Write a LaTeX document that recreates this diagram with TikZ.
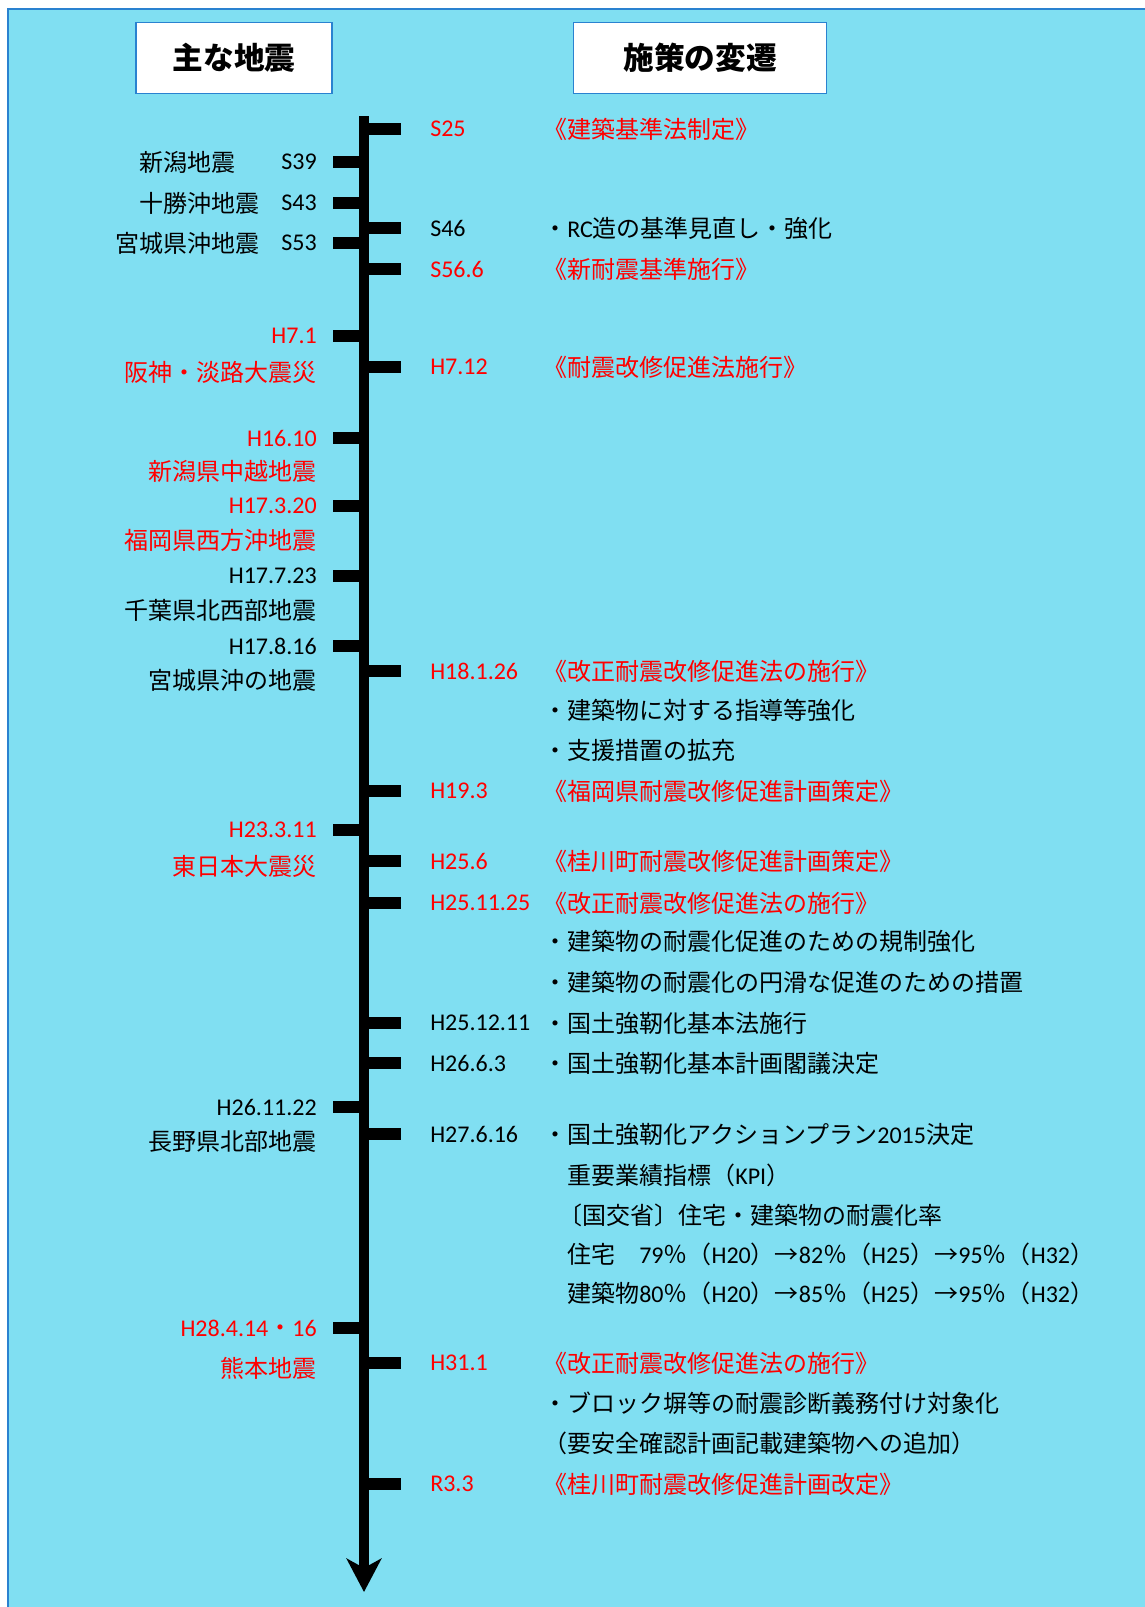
\documentclass[tikz,border=0pt]{standalone}
\usepackage{fontspec}
\setmainfont{Noto Sans CJK JP}
\newfontfamily\latfont{Carlito}
\newfontfamily\jpfont{Noto Sans CJK JP}
\usepackage{tikz}
\usetikzlibrary{arrows.meta}
\usepackage{xcolor}
\definecolor{bgcyan}{RGB}{128,223,242}
\definecolor{edgeblue}{RGB}{42,130,208}
\definecolor{evred}{RGB}{255,0,0}
\newcommand{\lat}[1]{{\latfont\fontsize{18}{22}\selectfont #1}}
\newcommand{\jpc}[1]{{\jpfont\fontsize{18}{22}\selectfont #1}}
\tikzset{%
    jp/.style={font=\fontsize{18}{22}\selectfont, inner sep=0pt},
    evdate/.style={font=\latfont\fontsize{18}{22}\selectfont, anchor=east, inner sep=0pt},
    evname/.style={jp, anchor=east},
    poldate/.style={font=\latfont\fontsize{18}{22}\selectfont, anchor=west, inner sep=0pt},
    poltext/.style={jp, anchor=west},
    headbox/.style={draw=edgeblue, line width=1.2pt, fill=white,
        minimum height=53pt, font=\fontsize{23}{28}\selectfont\bfseries}
}

\begin{document}
\begin{tikzpicture}[x=0.75pt,y=-0.75pt]
    \useasboundingbox (0,0) rectangle (1145,1607);
    \fill[bgcyan] (8,9) rectangle (1145,1607);
    \draw[edgeblue,line width=1.5pt] (8,1607)--(8,9)--(1145,9);
    % headings
    \node[headbox,minimum width=147pt] (eqhead) at (234,58) {主な地震};
    \node[headbox,minimum width=190pt] (polhead) at (700,58) {施策の変遷};
    % time axis
    \draw[line width=7.5pt,-{Stealth[length=25pt,width=26pt,inset=7pt]}] (364,116)--(364,1592);
    \foreach \y in {162,203,243,336,438,506,576,646,830,1107,1328}
    {
    \fill (333,\y-6) rectangle (364,\y+6);
    }
    \foreach \y in {129,228,269,367,671,791,861,903,1023,1063,1134,1363,1484}
    {
    \fill (364,\y-6) rectangle (401,\y+6);
    }
    % earthquakes
    \node[evname] (niigata) at (236,162) {新潟地震};
    \node[evdate] (s39) at (317,162) {S39};
    \node[evname] (tokachi) at (260,203) {十勝沖地震};
    \node[evdate] (s43) at (317,203) {S43};
    \node[evname] (miyagi) at (260,243) {宮城県沖地震};
    \node[evdate] (s53) at (317,243) {S53};
    \node[evdate,evred] (h71) at (317,336) {H7.1};
    \node[evname,evred] (hanshin) at (317,372) {阪神・淡路大震災};
    \node[evdate,evred] (h1610) at (317,438) {H16.10};
    \node[evname,evred] (chuetsu) at (317,471) {新潟県中越地震};
    \node[evdate,evred] (h17320) at (317,506) {H17.3.20};
    \node[evname,evred] (fukuoka) at (317,540) {福岡県西方沖地震};
    \node[evdate] (h17723) at (317,576) {H17.7.23};
    \node[evname] (chiba) at (317,610) {千葉県北西部地震};
    \node[evdate] (h17816) at (317,646) {H17.8.16};
    \node[evname] (miyagioki) at (317,680) {宮城県沖の地震};
    \node[evdate,evred] (h23311) at (317,830) {H23.3.11};
    \node[evname,evred] (tohoku) at (317,866) {東日本大震災};
    \node[evdate] (h261122) at (317,1107) {H26.11.22};
    \node[evname] (nagano) at (317,1141) {長野県北部地震};
    \node[evdate,evred] (h28414) at (317,1328) {H28.4.14\jpc{・}16};
    \node[evname,evred] (kumamoto) at (317,1368) {熊本地震};
    % policies
    \node[poldate,evred] (s25) at (430,129) {S25};
    \node[poltext,evred] (p25) at (543,129) {《建築基準法制定》};
    \node[poldate] (s46) at (430,228) {S46};
    \node[poltext] (p46) at (543,228) {・\lat{RC}造の基準見直し・強化};
    \node[poldate,evred] (s566) at (430,269) {S56.6};
    \node[poltext,evred] (p566) at (543,269) {《新耐震基準施行》};
    \node[poldate,evred] (h712) at (430,367) {H7.12};
    \node[poltext,evred] (p712) at (543,367) {《耐震改修促進法施行》};
    \node[poldate,evred] (h18126) at (430,671) {H18.1.26};
    \node[poltext,evred] (p18) at (543,671) {《改正耐震改修促進法の施行》};
    \node[poltext] (p18a) at (543,710) {・建築物に対する指導等強化};
    \node[poltext] (p18b) at (543,750) {・支援措置の拡充};
    \node[poldate,evred] (h193) at (430,791) {H19.3};
    \node[poltext,evred] (p193) at (543,791) {《福岡県耐震改修促進計画策定》};
    \node[poldate,evred] (h256) at (430,861) {H25.6};
    \node[poltext,evred] (p256) at (543,861) {《桂川町耐震改修促進計画策定》};
    \node[poldate,evred] (h251125) at (430,903) {H25.11.25};
    \node[poltext,evred] (p2511) at (543,903) {《改正耐震改修促進法の施行》};
    \node[poltext] (p2511a) at (543,941) {・建築物の耐震化促進のための規制強化};
    \node[poltext] (p2511b) at (543,982) {・建築物の耐震化の円滑な促進のための措置};
    \node[poldate] (h251211) at (430,1023) {H25.12.11};
    \node[poltext] (p2512) at (543,1023) {・国土強靭化基本法施行};
    \node[poldate] (h2663) at (430,1063) {H26.6.3};
    \node[poltext] (p266) at (543,1063) {・国土強靭化基本計画閣議決定};
    \node[poldate] (h27616) at (430,1134) {H27.6.16};
    \node[poltext] (p276) at (543,1134) {・国土強靭化アクションプラン\lat{2015}決定};
    \node[poltext] (kpi) at (567,1175) {重要業績指標（\lat{KPI}）};
    \node[poltext] (rate) at (558,1215) {〔国交省〕住宅・建築物の耐震化率};
    \node[poltext] (house) at (567,1254) {住宅　\lat{79}％（\lat{H20}）→\lat{82}％（\lat{H25}）→\lat{95}％（\lat{H32}）};
    \node[poltext] (bldg) at (567,1293) {建築物\lat{80}％（\lat{H20}）→\lat{85}％（\lat{H25}）→\lat{95}％（\lat{H32}）};
    \node[poldate,evred] (h311) at (430,1363) {H31.1};
    \node[poltext,evred] (p311) at (543,1363) {《改正耐震改修促進法の施行》};
    \node[poltext] (p311a) at (543,1403) {・ブロック塀等の耐震診断義務付け対象化};
    \node[poltext] (p311b) at (543,1443) {（要安全確認計画記載建築物への追加）};
    \node[poldate,evred] (r33) at (430,1484) {R3.3};
    \node[poltext,evred] (p33) at (543,1484) {《桂川町耐震改修促進計画改定》};
\end{tikzpicture}
\end{document}
